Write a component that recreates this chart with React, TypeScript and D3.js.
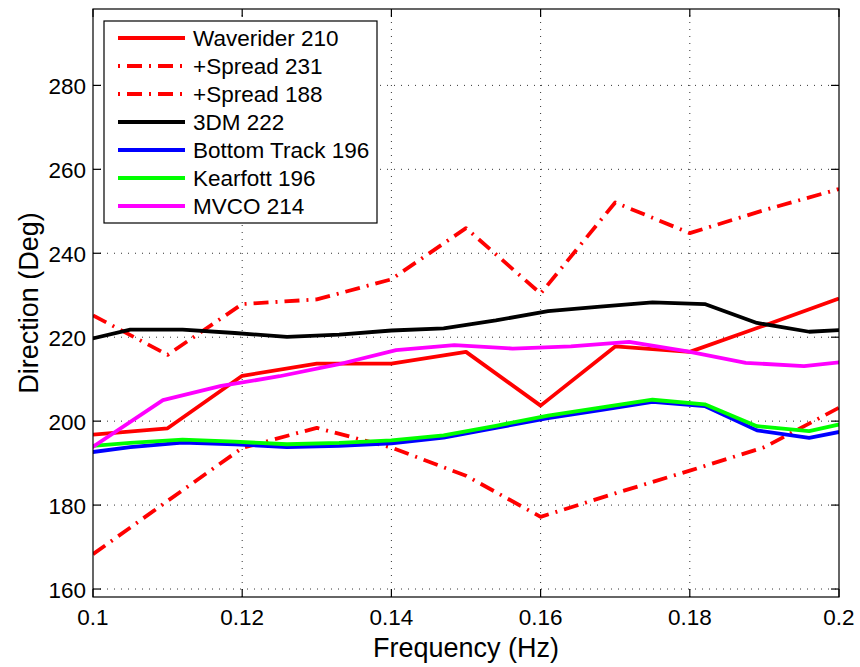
import React, { useEffect, useRef } from "react";
import * as d3 from "d3";

// spectral bins of the different sources
const freqWave = [0.1, 0.11, 0.12, 0.13, 0.14, 0.15, 0.16, 0.17, 0.18, 0.19, 0.2];
const waverider = [196.8, 198.3, 210.8, 213.7, 213.7, 216.5, 203.7, 217.8, 216.5, 222.8, 229.2];
const spreadHigh = [225.2, 215.8, 227.9, 229.0, 233.8, 246.0, 230.4, 252.1, 244.8, 250.3, 255.3];
const spreadLow = [168.3, 181.0, 193.6, 198.4, 193.7, 187.0, 177.2, 182.8, 188.2, 193.8, 203.2];

const freqAdcp = [0.098, 0.105, 0.112, 0.119, 0.126, 0.133, 0.14, 0.147, 0.154, 0.161, 0.168, 0.175, 0.182, 0.189, 0.196, 0.203];
const dm3 = [218.9, 221.8, 221.8, 221.0, 220.1, 220.6, 221.6, 222.1, 224.0, 226.2, 227.3, 228.3, 227.9, 223.4, 221.3, 222.0];
const bottomTrack = [192.2, 193.8, 194.9, 194.5, 193.8, 194.1, 194.7, 196.1, 198.4, 200.7, 202.6, 204.6, 203.6, 197.8, 196.0, 198.5];
const kearfott = [193.8, 194.8, 195.6, 195.1, 194.5, 194.8, 195.4, 196.6, 198.9, 201.3, 203.2, 205.1, 204.0, 198.8, 197.6, 200.4];

const freqMvco = [0.09375, 0.109375, 0.1171875, 0.125, 0.1328125, 0.140625, 0.1484375, 0.15625, 0.1640625, 0.171875, 0.1796875, 0.1875, 0.1953125, 0.203125];
const mvco = [186.5, 205.0, 208.4, 210.7, 213.5, 216.9, 218.1, 217.3, 217.8, 218.9, 216.6, 213.9, 213.1, 214.6];

const xTicks = [0.1, 0.12, 0.14, 0.16, 0.18, 0.2];
const yTicks = [160, 180, 200, 220, 240, 260, 280];

const DASHDOT = "15,7,2,7";

const series = [
    { label: "Waverider 210", x: freqWave, y: waverider, color: "#ff0000", dash: null },
    { label: "+Spread 231", x: freqWave, y: spreadHigh, color: "#ff0000", dash: DASHDOT },
    { label: "+Spread 188", x: freqWave, y: spreadLow, color: "#ff0000", dash: DASHDOT },
    { label: "3DM 222", x: freqAdcp, y: dm3, color: "#000000", dash: null },
    { label: "Bottom Track 196", x: freqAdcp, y: bottomTrack, color: "#0000ff", dash: null },
    { label: "Kearfott 196", x: freqAdcp, y: kearfott, color: "#00ff00", dash: null },
    { label: "MVCO 214", x: freqMvco, y: mvco, color: "#ff00ff", dash: null },
];

const FONT = "'Liberation Sans', Arial, Helvetica, sans-serif";

export default function App() {
    const svgRef = useRef<SVGSVGElement>(null);

    useEffect(() => {
        const width = 860;
        const height = 667;
        const margin = { top: 9, right: 21, bottom: 70, left: 93 };

        const svg = d3.select(svgRef.current);
        svg.selectAll("*").remove();

        const xScale = d3.scaleLinear().domain([0.1, 0.2]).range([margin.left, width - margin.right]);
        const yScale = d3.scaleLinear().domain([158.1, 298.2]).range([height - margin.bottom, margin.top]);

        const [x0, x1] = xScale.range();
        const [y0, y1] = yScale.range();

        svg.append("rect").attr("width", width).attr("height", height).attr("fill", "#fff");

        svg.append("clipPath").attr("id", "plot-clip")
            .append("rect")
            .attr("x", x0).attr("y", y1)
            .attr("width", x1 - x0).attr("height", y0 - y1);

        /** dotted grid */
        const grid = svg.append("g").attr("class", "grid")
            .attr("stroke", "#333").attr("stroke-width", 1).attr("stroke-dasharray", "1,6");
        xTicks.slice(1, -1).forEach(t => {
            grid.append("line").attr("x1", xScale(t)).attr("x2", xScale(t)).attr("y1", y0).attr("y2", y1);
        });
        yTicks.forEach(t => {
            grid.append("line").attr("x1", x0).attr("x2", x1).attr("y1", yScale(t)).attr("y2", yScale(t));
        });

        /** data lines */
        const line = d3.line<[number, number]>()
            .x(d => xScale(d[0]))
            .y(d => yScale(d[1]));

        const lines = svg.append("g").attr("clip-path", "url(#plot-clip)");
        series.forEach(s => {
            const pts: [number, number][] = s.x.map((f, i) => [f, s.y[i]]);
            lines.append("path")
                .attr("d", line(pts))
                .attr("fill", "none")
                .attr("stroke", s.color)
                .attr("stroke-width", 3.8)
                .attr("stroke-linejoin", "round")
                .attr("stroke-dasharray", s.dash);
        });

        /** axes box and inward ticks on all sides */
        svg.append("rect")
            .attr("x", x0).attr("y", y1)
            .attr("width", x1 - x0).attr("height", y0 - y1)
            .attr("fill", "none").attr("stroke", "#000").attr("stroke-width", 1.2);

        const tickLen = 8;
        const ticks = svg.append("g").attr("stroke", "#000").attr("stroke-width", 1.2);
        xTicks.forEach(t => {
            ticks.append("line").attr("x1", xScale(t)).attr("x2", xScale(t)).attr("y1", y0).attr("y2", y0 - tickLen);
            ticks.append("line").attr("x1", xScale(t)).attr("x2", xScale(t)).attr("y1", y1).attr("y2", y1 + tickLen);
        });
        yTicks.forEach(t => {
            ticks.append("line").attr("x1", x0).attr("x2", x0 + tickLen).attr("y1", yScale(t)).attr("y2", yScale(t));
            ticks.append("line").attr("x1", x1).attr("x2", x1 - tickLen).attr("y1", yScale(t)).attr("y2", yScale(t));
        });

        /** tick labels */
        const labels = svg.append("g").attr("font-family", FONT).attr("font-size", 22.5).attr("fill", "#000");
        xTicks.forEach(t => {
            labels.append("text")
                .attr("x", xScale(t)).attr("y", 625)
                .attr("text-anchor", "middle")
                .text(d3.format("~g")(t));
        });
        yTicks.forEach(t => {
            labels.append("text")
                .attr("x", x0 - 7).attr("y", yScale(t) + 8.5)
                .attr("text-anchor", "end")
                .text(t);
        });

        svg.append("text")
            .attr("x", (x0 + x1) / 2).attr("y", 657)
            .attr("text-anchor", "middle")
            .attr("font-family", FONT).attr("font-size", 27)
            .text("Frequency (Hz)");

        svg.append("text")
            .attr("transform", `translate(38, ${(y0 + y1) / 2}) rotate(-90)`)
            .attr("text-anchor", "middle")
            .attr("font-family", FONT).attr("font-size", 27)
            .text("Direction (Deg)");

        /** legend */
        const legend = svg.append("g");
        legend.append("rect")
            .attr("x", 104).attr("y", 21).attr("width", 273).attr("height", 202)
            .attr("fill", "#fff").attr("stroke", "#000").attr("stroke-width", 1.2);
        series.forEach((s, i) => {
            const cy = 38 + i * 28;
            legend.append("line")
                .attr("x1", 118).attr("x2", 185).attr("y1", cy).attr("y2", cy)
                .attr("stroke", s.color).attr("stroke-width", 3.8)
                .attr("stroke-dasharray", s.dash)
                .attr("stroke-dashoffset", s.dash ? 22 : null);
            legend.append("text")
                .attr("x", 193).attr("y", cy + 8)
                .attr("font-family", FONT).attr("font-size", 22.5)
                .text(s.label);
        });
    }, []);

    return (
        <svg
            ref={svgRef}
            width={860}
            height={667}
            style={{ position: "absolute", left: 0, top: 0, display: "block" }}
        />
    );
}
